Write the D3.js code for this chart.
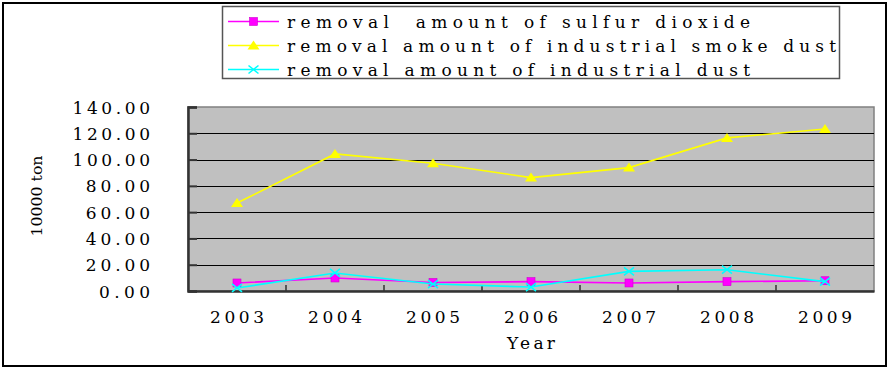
<!DOCTYPE html>
<html>
<head>
<meta charset="utf-8">
<script src="https://cdn.jsdelivr.net/npm/d3@7"></script>
<style>
  html, body { margin: 0; padding: 0; background: #fff; }
  svg { display: block; }
  text { font-family: "DejaVu Serif", "Liberation Serif", serif; fill: #000; white-space: pre; }
</style>
</head>
<body>
<svg id="chart" width="888" height="369"></svg>
<script>
// Removal amounts by year, unit: 10000 ton
const years = ["2003", "2004", "2005", "2006", "2007", "2008", "2009"];
const sulfurDioxide = [6.1, 9.9, 6.5, 7.1, 6.1, 7.1, 7.8];
const smokeDust = [66.9, 104.3, 97.2, 86.3, 93.9, 116.5, 123.3];
const industrialDust = [2.3, 13.7, 5.3, 3.0, 14.9, 16.2, 7.1];
const yTicks = [0, 20, 40, 60, 80, 100, 120, 140];
const seriesNames = [
  "removal  amount of sulfur dioxide",
  "removal amount of industrial smoke dust",
  "removal amount of industrial dust"
];

const series = [
  { name: seriesNames[0], values: sulfurDioxide, color: "#FF00FF", marker: "square" },
  { name: seriesNames[1], values: smokeDust, color: "#FFFF00", marker: "triangle" },
  { name: seriesNames[2], values: industrialDust, color: "#00FFFF", marker: "cross" }
];

const svg = d3.select("#chart");
const plot = { left: 188, right: 874, top: 107, bottom: 291 };

// outer frame
svg.append("rect")
  .attr("x", 3).attr("y", 3).attr("width", 883).attr("height", 363)
  .attr("fill", "none").attr("stroke", "#000").attr("stroke-width", 2);

const x = d3.scaleBand().domain(years).range([plot.left, plot.right]).paddingInner(0).paddingOuter(0);
const y = d3.scaleLinear().domain([0, 140]).range([plot.bottom, plot.top]);

// plot background
svg.append("rect")
  .attr("x", plot.left).attr("y", plot.top)
  .attr("width", plot.right - plot.left).attr("height", plot.bottom - plot.top)
  .attr("fill", "#C0C0C0").attr("stroke", "#808080").attr("stroke-width", 1.5);

// horizontal gridlines
svg.append("g").selectAll("line")
  .data(yTicks.filter(t => t > 0 && t < 140))
  .join("line")
  .attr("x1", plot.left).attr("x2", plot.right)
  .attr("y1", d => Math.round(y(d)) + 0.5).attr("y2", d => Math.round(y(d)) + 0.5)
  .attr("stroke", "#000").attr("stroke-width", 1.2);

// y axis with inward ticks
const yAxis = svg.append("g")
  .attr("transform", `translate(${plot.left},0)`)
  .call(d3.axisLeft(y).tickValues(yTicks).tickFormat(d3.format(".2f")).tickSize(-9).tickPadding(38));
yAxis.attr("font-family", null);
yAxis.select(".domain").attr("stroke", "#333").attr("stroke-width", 2.5);
yAxis.selectAll(".tick line").attr("stroke", "#333").attr("stroke-width", 2);
yAxis.selectAll(".tick text")
  .attr("font-size", 17)
  .attr("dy", "0.36em")
  .attr("textLength", function () { return (this.textContent.length - 1) * 13.3 + 11; })
  .attr("lengthAdjust", "spacing");

// x axis: labels centred in each category, ticks at category boundaries
const xAxis = svg.append("g")
  .attr("transform", `translate(0,${plot.bottom})`)
  .call(d3.axisBottom(x).tickSize(0).tickPadding(20));
xAxis.attr("font-family", null);
xAxis.select(".domain").attr("stroke", "#333").attr("stroke-width", 2.5);
xAxis.selectAll(".tick text")
  .attr("font-size", 17)
  .attr("textLength", 54)
  .attr("lengthAdjust", "spacing");

svg.append("g").selectAll("line")
  .data(years.slice(1))
  .join("line")
  .attr("x1", d => x(d)).attr("x2", d => x(d))
  .attr("y1", plot.bottom).attr("y2", plot.bottom - 6)
  .attr("stroke", "#333").attr("stroke-width", 1.5);

// axis titles
svg.append("text")
  .attr("x", x(years[3]) + x.bandwidth() / 2).attr("y", 349)
  .attr("text-anchor", "middle").attr("font-size", 17)
  .attr("textLength", 48).attr("lengthAdjust", "spacing")
  .text("Year");

svg.append("text")
  .attr("transform", "translate(42,196) rotate(-90)")
  .attr("text-anchor", "middle").attr("font-size", 15)
  .attr("font-family", "Liberation Serif")
  .attr("textLength", 81).attr("lengthAdjust", "spacingAndGlyphs")
  .text("10000 ton");

// marker drawing
function drawMarker(g, type, color, cx, cy) {
  if (type === "square") {
    g.append("rect").attr("x", cx - 4).attr("y", cy - 4).attr("width", 8).attr("height", 8)
      .attr("fill", color).attr("stroke", "#D000D0").attr("stroke-width", 0.6);
  } else if (type === "triangle") {
    g.append("path").attr("d", `M${cx},${cy - 5}L${cx + 6},${cy + 4}L${cx - 6},${cy + 4}Z`)
      .attr("fill", color);
  } else {
    g.append("path").attr("d", `M${cx - 5},${cy - 4}L${cx + 5},${cy + 4}M${cx - 5},${cy + 4}L${cx + 5},${cy - 4}`)
      .attr("stroke", color).attr("stroke-width", 1.6).attr("fill", "none");
  }
}

const cx = d => x(d) + x.bandwidth() / 2;
const line = d3.line().x((d, i) => cx(years[i])).y(d => y(d));

series.forEach(s => {
  const g = svg.append("g");
  g.append("path").datum(s.values)
    .attr("d", line).attr("fill", "none")
    .attr("stroke", s.color).attr("stroke-width", 1.6);
  s.values.forEach((v, i) => drawMarker(g, s.marker, s.color, cx(years[i]), y(v)));
});

// legend
const legend = svg.append("g");
legend.append("rect")
  .attr("x", 222.5).attr("y", 6.5).attr("width", 617).attr("height", 72)
  .attr("fill", "#fff").attr("stroke", "#555").attr("stroke-width", 1.5);
const legendLen = [463, 549, 463];
series.forEach((s, i) => {
  const ly = 21.5 + i * 24;
  legend.append("line")
    .attr("x1", 228).attr("x2", 279).attr("y1", ly).attr("y2", ly)
    .attr("stroke", s.color).attr("stroke-width", 1.6);
  drawMarker(legend, s.marker, s.color, 253.5, ly);
  legend.append("text")
    .attr("x", 287).attr("y", ly + 6)
    .attr("font-size", 17)
    .attr("textLength", legendLen[i]).attr("lengthAdjust", "spacing")
    .text(s.name);
});
</script>
</body>
</html>
